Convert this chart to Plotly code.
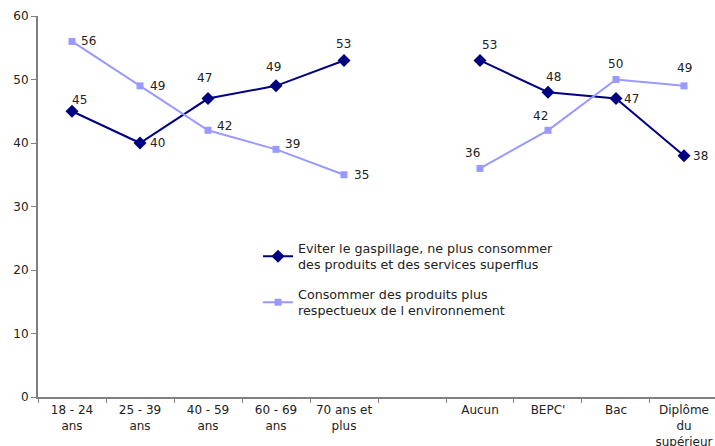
import plotly.graph_objects as go

categories = ["18 - 24<br>ans", "25 - 39<br>ans", "40 - 59<br>ans", "60 - 69<br>ans", "70 ans et<br>plus",
              " ", "Aucun", "BEPC'", "Bac", "Diplôme<br>du<br>supérieur"]
gaspillage = [45, 40, 47, 49, 53, None, 53, 48, 47, 38]
environnement = [56, 49, 42, 39, 35, None, 36, 42, 50, 49]
names = ["Eviter le gaspillage, ne plus consommer<br>des produits et des services superflus",
         "Consommer des produits plus<br>respectueux de l environnement"]

# label offsets in pixels (style)
off_g = [(7, -11), (17, 0), (-4, -21), (-3, -19), (-1, -16), None, (10, -15), (6, -15), (16, 0), (17, 0)]
off_e = [(16, 0), (17, 0), (16, -4), (16, -5), (17, 0), None, (-7, -15), (-7, -14), (0, -16), (1, -18)]

navy = "#000080"
light = "#9999FF"
font = "DejaVu Sans"
txt = "#222222"

fig = go.Figure()
fig.add_trace(go.Scatter(x=categories, y=gaspillage, name=names[0], mode="lines+markers",
                         line=dict(color=navy, width=2), marker=dict(symbol="diamond", size=10, color=navy),
                         connectgaps=False, legendgroup="a"))
fig.add_trace(go.Scatter(x=categories, y=environnement, name=names[1], mode="lines+markers",
                         line=dict(color=light, width=2), marker=dict(symbol="square", size=7, color=light),
                         connectgaps=False, legendgroup="b"))

for vals, offs in ((gaspillage, off_g), (environnement, off_e)):
    for c, v, o in zip(categories, vals, offs):
        if v is None:
            continue
        fig.add_annotation(x=c, y=v, text=str(v), showarrow=False, xshift=o[0], yshift=-o[1],
                           font=dict(family=font, size=12, color=txt))

fig.update_layout(
    width=715, height=446,
    margin=dict(l=38, r=0, t=16, b=49),
    paper_bgcolor="white", plot_bgcolor="white",
    font=dict(family=font, size=12, color=txt),
    showlegend=True,
    legend=dict(x=0.325, y=0.43, xanchor="left", yanchor="top", bgcolor="rgba(0,0,0,0)",
                font=dict(family=font, size=12.7, color=txt), tracegroupgap=10,
                itemwidth=30),
    xaxis=dict(type="category", categoryorder="array", categoryarray=categories,
               range=[-0.5, 9.456], tickson="boundaries", ticks="outside", ticklen=4,
               tickcolor="#808080", showline=True, linecolor="#808080", linewidth=2,
               showgrid=False, zeroline=False, tickfont=dict(size=12), ticklabelstandoff=1,
               automargin=False),
    yaxis=dict(range=[0, 60], dtick=10, ticks="outside", ticklen=5, tickcolor="#808080",
               showline=True, linecolor="#808080", linewidth=2, showgrid=False, zeroline=False,
               tickfont=dict(size=12), automargin=False),
)

fig.write_html("out.html", config={"displayModeBar": False},
               post_script="document.body.style.margin='0';document.body.style.overflow='hidden';")
